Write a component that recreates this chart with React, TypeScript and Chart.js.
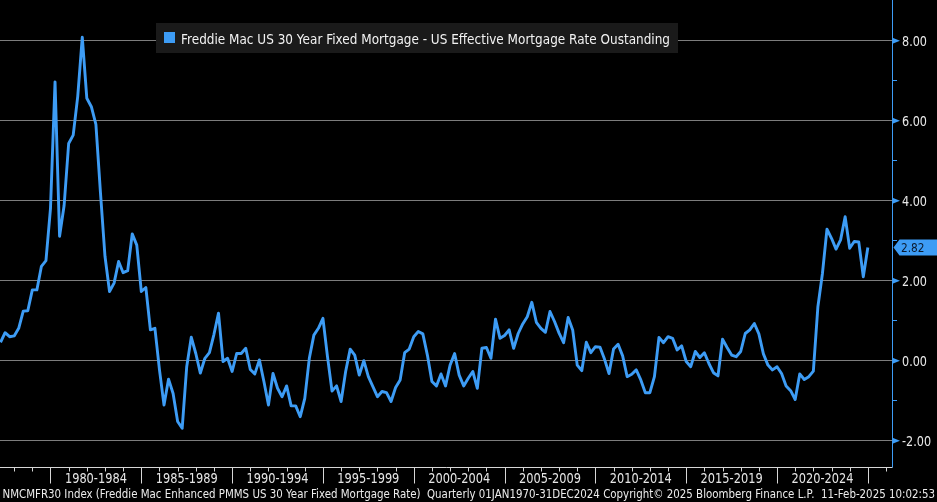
import React, { useEffect, useRef } from "react";
import { Chart, registerables } from "chart.js";

Chart.register(...registerables);

// Quarterly spread (Freddie Mac 30Y fixed minus effective outstanding rate), 1977Q1 .. 2024Q4
const FIRST_YEAR = 1977;
const spreadValues: number[] = [
  0.45, 0.69, 0.59, 0.61,
  0.80, 1.23, 1.24, 1.76,
  1.76, 2.35, 2.49, 3.80,
  6.96, 3.10, 3.87, 5.42,
  5.63, 6.60, 8.08, 6.55,
  6.34, 5.90, 4.20, 2.60,
  1.72, 1.93, 2.47, 2.19,
  2.24, 3.16, 2.88, 1.72,
  1.82, 0.76, 0.80, -0.24,
  -1.12, -0.47, -0.83, -1.53,
  -1.70, -0.16, 0.58, 0.17,
  -0.32, 0.05, 0.19, 0.65,
  1.18, -0.03, 0.05, -0.28,
  0.17, 0.17, 0.30, -0.23,
  -0.34, 0.01, -0.53, -1.12,
  -0.33, -0.70, -0.91, -0.64,
  -1.14, -1.14, -1.41, -0.95,
  0.05, 0.63, 0.80, 1.05,
  0.09, -0.77, -0.64, -1.03,
  -0.28, 0.28, 0.13, -0.37,
  -0.01, -0.41, -0.66, -0.91,
  -0.78, -0.81, -1.03, -0.68,
  -0.49, 0.19, 0.28, 0.59,
  0.72, 0.66, 0.13, -0.53,
  -0.64, -0.34, -0.64, -0.12,
  0.17, -0.37, -0.64, -0.45,
  -0.28, -0.70, 0.30, 0.32,
  0.05, 1.03, 0.55, 0.62,
  0.76, 0.30, 0.67, 0.91,
  1.09, 1.45, 0.95, 0.80,
  0.70, 1.22, 0.97, 0.68,
  0.44, 1.07, 0.76, -0.12,
  -0.26, 0.45, 0.19, 0.34,
  0.33, 0.03, -0.33, 0.28,
  0.40, 0.11, -0.41, -0.35,
  -0.24, -0.49, -0.81, -0.81,
  -0.41, 0.57, 0.44, 0.59,
  0.55, 0.26, 0.36, -0.03,
  -0.16, 0.22, 0.07, 0.19,
  -0.08, -0.31, -0.39, 0.53,
  0.32, 0.13, 0.09, 0.22,
  0.67, 0.76, 0.92, 0.66,
  0.16, -0.12, -0.24, -0.16,
  -0.33, -0.64, -0.76, -0.98,
  -0.34, -0.48, -0.41, -0.27,
  1.34, 2.17, 3.28, 3.05,
  2.78, 3.01, 3.59, 2.80,
  2.97, 2.96, 2.09, 2.82,
];

const periodStarts: number[] = [1980, 1985, 1990, 1995, 2000, 2005, 2010, 2015, 2020];
const periodLabels: string[] = [
  "1980-1984", "1985-1989", "1990-1994", "1995-1999", "2000-2004",
  "2005-2009", "2010-2014", "2015-2019", "2020-2024",
];
const yMajorTicks: number[] = [-2, 0, 2, 4, 6, 8];
const yMinorTicks: number[] = [-1, 1, 3, 5, 7];
const yTickLabels: string[] = ["-2.00", "0.00", "2.00", "4.00", "6.00", "8.00"];
const legendLabel = "Freddie Mac US 30 Year Fixed Mortgage - US Effective Mortgage Rate Oustanding";
const lastValueLabel = "2.82";
const footerText =
  "NMCMFR30 Index (Freddie Mac Enhanced PMMS US 30 Year Fixed Mortgage Rate)  Quarterly 01JAN1970-31DEC2024 Copyright\u00A9 2025 Bloomberg Finance L.P.  11-Feb-2025 10:02:53";

const W = 937;
const H = 502;
const BLUE = "#3d9cf5";
const FONT = "'DejaVu Sans', 'Noto Sans', sans-serif";

function fitText(
  ctx: CanvasRenderingContext2D,
  text: string,
  x: number,
  y: number,
  width: number,
  size: number,
  align: "left" | "center" = "left"
) {
  ctx.font = `${size}px ${FONT}`;
  const m = ctx.measureText(text).width;
  const sx = width / m;
  ctx.save();
  ctx.translate(align === "center" ? x - width / 2 : x, y);
  ctx.scale(sx, 1);
  ctx.textAlign = "left";
  ctx.textBaseline = "alphabetic";
  ctx.fillText(text, 0, 0);
  ctx.restore();
}

const bbgPlugin = {
  id: "bbg",
  beforeDatasetsDraw(chart: any) {
    const { ctx, chartArea, scales } = chart;
    const ys = scales.y;
    ctx.save();
    ctx.strokeStyle = "#7d7d7d";
    ctx.lineWidth = 1;
    for (const v of yMajorTicks) {
      const py = Math.round(ys.getPixelForValue(v)) + 0.5;
      ctx.beginPath();
      ctx.moveTo(chartArea.left, py);
      ctx.lineTo(chartArea.right, py);
      ctx.stroke();
    }
    ctx.restore();
  },
  afterDatasetsDraw(chart: any) {
    const { ctx, chartArea, scales } = chart;
    const xs = scales.x;
    const ys = scales.y;
    const right = chartArea.right + 0.5;
    const bottom = chartArea.bottom + 0.5;
    ctx.save();

    // Legend box
    ctx.fillStyle = "#1a1a1a";
    ctx.fillRect(156, 23, 522, 30);
    ctx.fillStyle = BLUE;
    ctx.fillRect(164, 32, 11, 11);
    ctx.fillStyle = "#f2f2f2";
    fitText(ctx, legendLabel, 181, 43.5, 489, 13.8);

    // X axis line + ticks
    ctx.strokeStyle = "#d6d6d6";
    ctx.lineWidth = 1;
    ctx.beginPath();
    ctx.moveTo(chartArea.left, bottom);
    ctx.lineTo(right, bottom);
    ctx.stroke();
    for (let yr = FIRST_YEAR + 1; yr <= 2026; yr++) {
      const px = Math.round(xs.getPixelForValue(yr)) + 0.5;
      if (px > right) continue;
      const len = yr % 5 === 0 ? 16 : 4;
      ctx.beginPath();
      ctx.moveTo(px, bottom);
      ctx.lineTo(px, bottom + len);
      ctx.stroke();
    }
    ctx.fillStyle = "#e6e6e6";
    periodStarts.forEach((start, k) => {
      const cx = (xs.getPixelForValue(start) + xs.getPixelForValue(start + 5)) / 2;
      fitText(ctx, periodLabels[k], cx, 482.5, 62, 13.8, "center");
    });

    // Y axis (right)
    ctx.strokeStyle = BLUE;
    ctx.beginPath();
    ctx.moveTo(right, chartArea.top);
    ctx.lineTo(right, bottom);
    ctx.stroke();
    ctx.fillStyle = BLUE;
    for (const v of yMajorTicks) {
      const py = ys.getPixelForValue(v) + 0.5;
      ctx.beginPath();
      ctx.moveTo(right, py - 3);
      ctx.lineTo(right + 7.5, py);
      ctx.lineTo(right, py + 3);
      ctx.closePath();
      ctx.fill();
    }
    for (const v of yMinorTicks) {
      const py = Math.round(ys.getPixelForValue(v)) + 0.5;
      ctx.beginPath();
      ctx.moveTo(right, py);
      ctx.lineTo(right + 4.5, py);
      ctx.stroke();
    }
    ctx.font = `13.8px ${FONT}`;
    const sx = 25 / ctx.measureText("8.00").width;
    ctx.fillStyle = "#e8e8e8";
    yMajorTicks.forEach((v, k) => {
      const py = ys.getPixelForValue(v);
      const txt = yTickLabels[k];
      ctx.font = `13.8px ${FONT}`;
      const w = ctx.measureText(txt).width * sx;
      fitText(ctx, txt, 902, py + 5.8, w, 13.8);
    });

    // Last value tag
    const lastVal = spreadValues[spreadValues.length - 1];
    const ly = ys.getPixelForValue(lastVal);
    ctx.fillStyle = BLUE;
    ctx.beginPath();
    ctx.moveTo(right + 1, ly);
    ctx.lineTo(right + 7, ly - 8);
    ctx.lineTo(W, ly - 8);
    ctx.lineTo(W, ly + 8);
    ctx.lineTo(right + 7, ly + 8);
    ctx.closePath();
    ctx.fill();
    ctx.fillStyle = "#0b1a2e";
    fitText(ctx, lastValueLabel, 901, ly + 4.8, 23.5, 12.8);

    // Footer
    ctx.fillStyle = "#ececec";
    fitText(ctx, footerText, 2.5, 498.3, 932.5, 11.8);

    ctx.restore();
  },
};

export default function App() {
  const canvasRef = useRef<HTMLCanvasElement | null>(null);

  useEffect(() => {
    document.body.style.margin = "0";
    document.body.style.background = "#000";
    const canvas = canvasRef.current;
    if (!canvas) return;
    const points = spreadValues.map((v, i) => ({ x: FIRST_YEAR + (i + 1) * 0.25, y: v }));
    const chart = new Chart(canvas, {
      type: "line",
      data: {
        datasets: [
          {
            label: legendLabel,
            data: points,
            borderColor: BLUE,
            backgroundColor: BLUE,
            borderWidth: 2.9,
            pointRadius: 0,
            tension: 0,
            borderJoinStyle: "round",
          },
        ],
      },
      options: {
        animation: false,
        responsive: false,
        devicePixelRatio: 1,
        layout: { padding: { left: 0, top: 0, right: 45, bottom: 35 } },
        plugins: { legend: { display: false }, tooltip: { enabled: false } },
        scales: {
          x: { type: "linear", min: 1977.22, max: 2026.33, display: false },
          y: { type: "linear", min: -2.6675, max: 9.0075, display: false },
        },
      },
      plugins: [bbgPlugin],
    } as any);
    return () => chart.destroy();
  }, []);

  return (
    <div style={{ position: "absolute", left: 0, top: 0, width: W, height: H, background: "#000" }}>
      <canvas ref={canvasRef} width={W} height={H} style={{ display: "block", width: W, height: H }} />
    </div>
  );
}
